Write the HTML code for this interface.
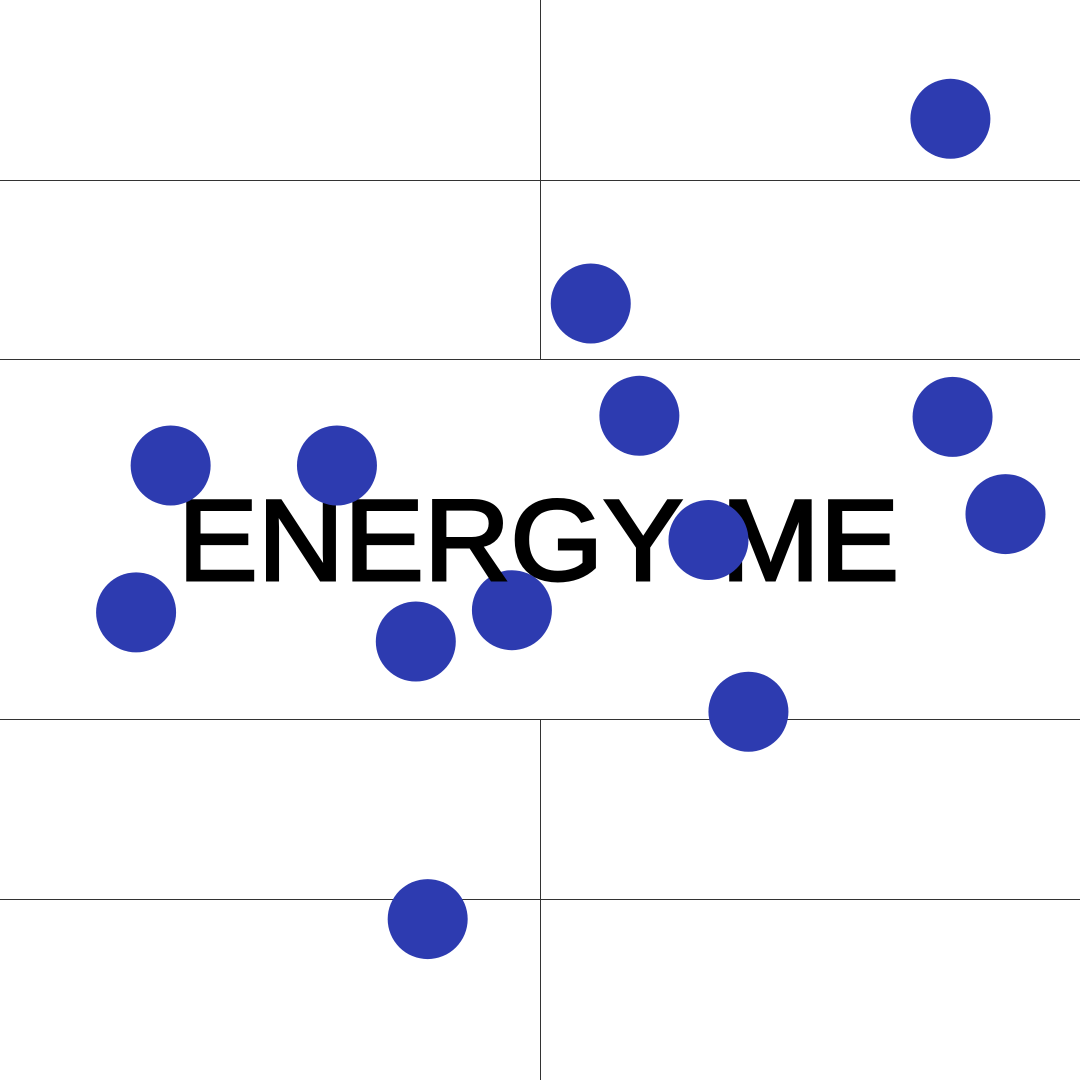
<!DOCTYPE html>
<html><head><meta charset="utf-8"><style>
html,body{margin:0;padding:0;background:#fff;}
svg{display:block;}
</style></head><body>
<svg id="chart" width="1080" height="1080" xmlns="http://www.w3.org/2000/svg">
<rect x="0" y="0" width="1080" height="1080" fill="#fff"/>
<g id="grid" stroke="#333" stroke-width="1">
<line x1="0" y1="180.5" x2="1080" y2="180.5"/>
<line x1="0" y1="359.5" x2="1080" y2="359.5"/>
<line x1="0" y1="719.5" x2="1080" y2="719.5"/>
<line x1="0" y1="899.5" x2="1080" y2="899.5"/>
<line x1="540.5" y1="0" x2="540.5" y2="360"/>
<line x1="540.5" y1="719" x2="540.5" y2="1080"/>
</g>
<g id="under"></g>
<g font-family="Liberation Sans, sans-serif" font-weight="normal" font-size="115" fill="#000" stroke="#000" stroke-width="3">
<text x="178" y="580" textLength="505" lengthAdjust="spacingAndGlyphs">ENERGY</text>
<text x="721" y="580" textLength="178" lengthAdjust="spacingAndGlyphs">ME</text>
</g>
<g id="dots"></g>
</svg>
<script>
const xValues = [88.0, 54.7, 59.2, 88.2, 15.8, 31.2, 93.1, 65.6, 12.6, 38.5, 47.4, 69.3, 39.6];
const yValues = [89.0, 71.9, 61.5, 61.4, 56.9, 56.9, 52.4, 50.0, 43.3, 40.6, 43.5, 34.1, 14.9];
const underText = [false, false, false, false, false, false, false, false, false, false, true, false, false];
const W = 1080, H = 1080;
function xScale(v){ return v / 100 * W; }
function yScale(v){ return H - v / 100 * H; }
const ns = "http://www.w3.org/2000/svg";
const dots = document.getElementById('dots');
const under = document.getElementById('under');
for (let i = 0; i < xValues.length; i++) {
  const c = document.createElementNS(ns, 'circle');
  c.setAttribute('cx', xScale(xValues[i]));
  c.setAttribute('cy', yScale(yValues[i]));
  c.setAttribute('r', 40);
  c.setAttribute('fill', '#2d3bb0');
  
  
  (underText[i] ? under : dots).appendChild(c);
}
</script>
</body></html>
